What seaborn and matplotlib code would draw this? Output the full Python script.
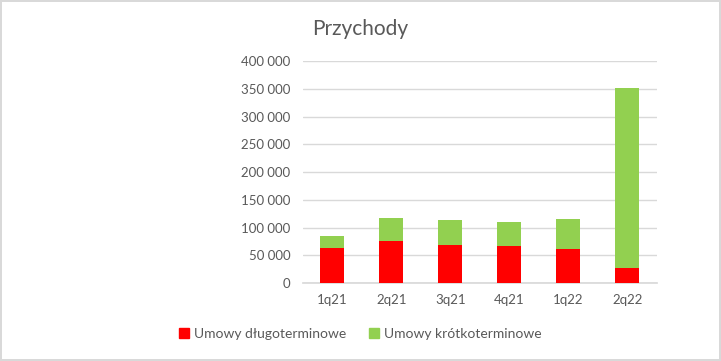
import matplotlib
matplotlib.use("Agg")
import matplotlib.pyplot as plt
import seaborn as sns
import pandas as pd
from matplotlib.patches import Patch
from matplotlib.ticker import FuncFormatter

categories = ["1q21", "2q21", "3q21", "4q21", "1q22", "2q22"]
dlugo = [63200, 75800, 68600, 66800, 61400, 27100]
krotko = [21600, 41500, 45100, 43300, 54100, 324800]
series_names = ["Umowy długoterminowe", "Umowy krótkoterminowe"]

sns.set_theme(style="white")
plt.rcParams["font.family"] = ["Lato", "DejaVu Sans"]

RED = "#FF0000"
GREEN = "#92D050"
GREY = "#595959"

df = pd.DataFrame({"kw": categories, "d": dlugo, "k": krotko})
df["total"] = df["d"] + df["k"]

fig = plt.figure(figsize=(7.21, 3.61), dpi=100)
fig.patch.set_facecolor("white")
fig.patch.set_edgecolor("#D9D9D9")
fig.patch.set_linewidth(1.5)
ax = fig.add_axes([0.420, 0.216, 0.491, 0.614])

sns.barplot(data=df, x="kw", y="total", color=GREEN, width=0.41, ax=ax,
            saturation=1, zorder=3, linewidth=0, edgecolor="none")
sns.barplot(data=df, x="kw", y="d", color=RED, width=0.41, ax=ax,
            saturation=1, zorder=4, linewidth=0, edgecolor="none")

ax.set_xlim(-0.5, 5.5)
ax.set_ylim(0, 400000)
ax.set_yticks(range(0, 400001, 50000))
ax.yaxis.set_major_formatter(FuncFormatter(lambda v, p: f"{int(v):,}".replace(",", " ")))
ax.grid(axis="y", color="#D9D9D9", linewidth=1, zorder=0)
ax.set_axisbelow(True)
for s in ["top", "right", "left"]:
    ax.spines[s].set_visible(False)
ax.spines["bottom"].set_color("#D9D9D9")
ax.tick_params(axis="both", length=0, labelsize=9.5, colors=GREY, pad=8)
ax.tick_params(axis="y", pad=9)
ax.set_xlabel("")
ax.set_ylabel("")

fig.text(0.5, 0.92, "Przychody", ha="center", va="center", fontsize=15, color=GREY)

handles = [Patch(facecolor=RED, edgecolor=RED), Patch(facecolor=GREEN, edgecolor=GREEN)]
fig.legend(handles, series_names, loc="center", bbox_to_anchor=(0.5, 0.075), ncol=2,
           frameon=False, fontsize=10, labelcolor=GREY, handlelength=0.7,
           handleheight=0.7, handletextpad=0.4, columnspacing=1.6)

fig.savefig("out.png", dpi=100)
